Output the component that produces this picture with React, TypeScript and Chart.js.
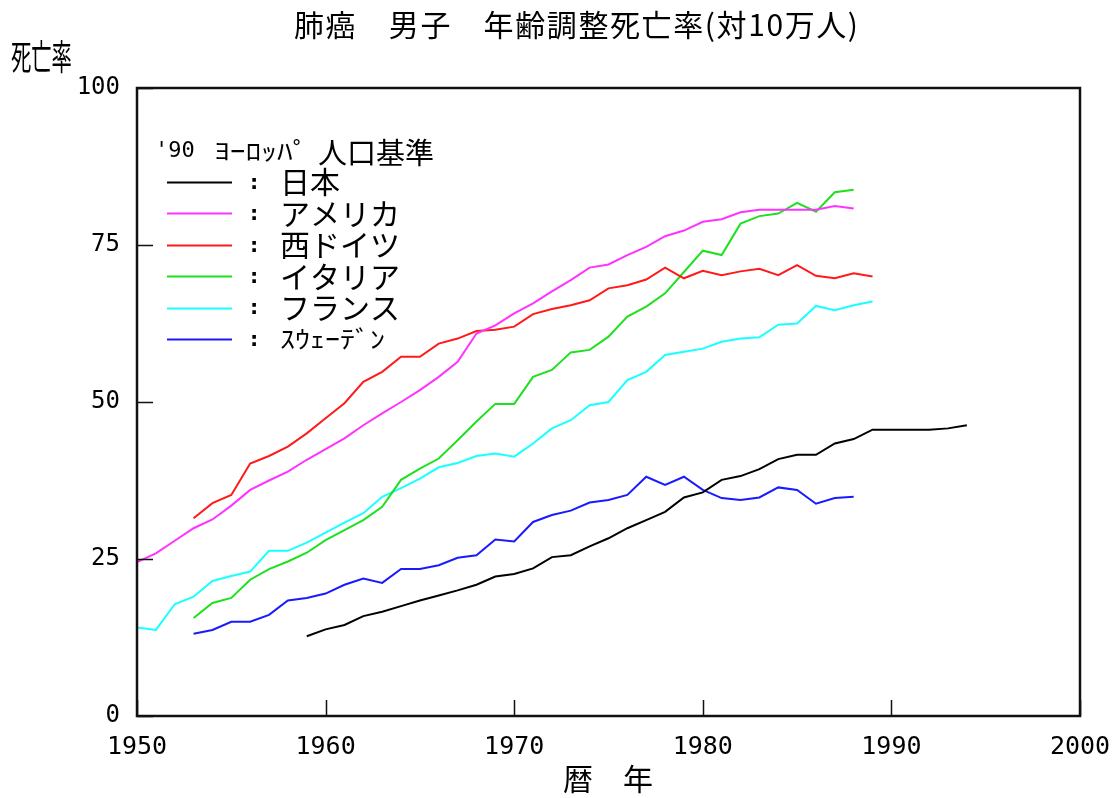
import React, { useEffect, useRef } from "react";
import { Chart, registerables } from "chart.js";

Chart.register(...registerables);

// ---------- data ----------
const chartTitle = "肺癌　男子　年齢調整死亡率(対10万人)";
const yAxisTitle = "死亡率";
const xAxisTitle = "暦　年";
const legendYear = "'90";
const legendKana = "ﾖｰﾛｯﾊﾟ";
const legendKanji = "人口基準";

const seriesNames = ["日本", "アメリカ", "西ドイツ", "イタリア", "フランス", "ｽｳｪｰﾃﾞﾝ"];
const seriesColors = ["#000000", "#ff33ff", "#ff1a1a", "#1ee01e", "#1affff", "#1a1aff"];
const seriesStartYears = [1959, 1950, 1953, 1953, 1950, 1953];

const japan = [
  12.7, 13.8, 14.5, 15.9, 16.6, 17.5, 18.4, 19.2, 20.0, 20.9, 22.2, 22.6, 23.5, 25.3, 25.6, 27.0,
  28.3, 29.9, 31.2, 32.5, 34.8, 35.6, 37.6, 38.2, 39.3, 40.9, 41.6, 41.6, 43.4, 44.1, 45.6, 45.6,
  45.6, 45.6, 45.8, 46.3,
];
const usa = [
  24.5, 25.9, 27.9, 29.9, 31.3, 33.5, 36.0, 37.5, 38.9, 40.8, 42.5, 44.2, 46.3, 48.2, 50.0, 51.9,
  54.0, 56.4, 60.9, 62.2, 64.1, 65.7, 67.6, 69.4, 71.4, 71.9, 73.4, 74.7, 76.4, 77.3, 78.7, 79.1,
  80.2, 80.6, 80.6, 80.6, 80.6, 81.2, 80.8,
];
const westGermany = [
  31.5, 33.9, 35.2, 40.2, 41.4, 42.9, 45.0, 47.4, 49.8, 53.2, 54.8, 57.2, 57.2, 59.3, 60.1, 61.3,
  61.5, 62.0, 64.0, 64.8, 65.4, 66.2, 68.1, 68.6, 69.5, 71.4, 69.7, 70.9, 70.2, 70.8, 71.2, 70.2,
  71.8, 70.1, 69.7, 70.5, 70.0,
];
const italy = [
  15.6, 18.0, 18.8, 21.7, 23.4, 24.6, 26.0, 28.0, 29.6, 31.2, 33.3, 37.6, 39.4, 41.0, 43.9, 46.9,
  49.7, 49.7, 54.0, 55.1, 57.9, 58.3, 60.4, 63.6, 65.2, 67.3, 70.7, 74.1, 73.4, 78.4, 79.6, 80.0,
  81.7, 80.3, 83.4, 83.8,
];
const france = [
  14.1, 13.7, 17.8, 19.0, 21.5, 22.3, 23.0, 26.3, 26.3, 27.6, 29.2, 30.8, 32.3, 34.9, 36.3, 37.8,
  39.6, 40.3, 41.4, 41.8, 41.3, 43.4, 45.8, 47.1, 49.5, 50.0, 53.5, 54.8, 57.5, 58.0, 58.5, 59.6,
  60.1, 60.3, 62.3, 62.5, 65.3, 64.6, 65.4, 66.0,
];
const sweden = [
  13.1, 13.7, 15.0, 15.0, 16.1, 18.4, 18.8, 19.5, 20.9, 21.9, 21.2, 23.4, 23.4, 24.0, 25.2, 25.6,
  28.1, 27.8, 30.9, 32.0, 32.7, 34.0, 34.4, 35.2, 38.1, 36.8, 38.1, 36.0, 34.7, 34.4, 34.8, 36.4,
  36.0, 33.8, 34.7, 34.9,
];
const seriesValues = [japan, usa, westGermany, italy, france, sweden];

const xTickValues = [1950, 1960, 1970, 1980, 1990, 2000];
const yTickValues = [0, 25, 50, 75, 100];

// ---------- helpers ----------
const CJK = "'Noto Sans CJK JP', 'Noto Sans CJK SC', sans-serif";
const MONO = "'DejaVu Sans Mono', 'Liberation Mono', monospace";

function drawText(
  ctx: CanvasRenderingContext2D,
  text: string,
  x: number,
  y: number,
  font: string,
  opts: { sx?: number; sy?: number; align?: CanvasTextAlign; spacing?: string } = {}
) {
  ctx.save();
  ctx.translate(x, y);
  ctx.scale(opts.sx ?? 1, opts.sy ?? 1);
  ctx.font = font;
  (ctx as any).letterSpacing = opts.spacing ?? "0px";
  ctx.textAlign = opts.align ?? "left";
  ctx.textBaseline = "middle";
  ctx.fillStyle = "#000";
  ctx.fillText(text, 0, 0);
  ctx.restore();
}

const decorPlugin = {
  id: "decor",
  afterDatasetsDraw(chart: any) {
    const ctx: CanvasRenderingContext2D = chart.ctx;
    const { left, right, top, bottom } = chart.chartArea;
    const xs = chart.scales.x;
    const ys = chart.scales.y;

    // frame
    ctx.save();
    ctx.strokeStyle = "#111";
    ctx.lineWidth = 2.5;
    ctx.strokeRect(left, top, right - left, bottom - top);

    // inward tick marks
    ctx.lineWidth = 1.5;
    ctx.beginPath();
    for (const v of yTickValues) {
      const y = Math.round(ys.getPixelForValue(v)) + 0.5;
      ctx.moveTo(left, y);
      ctx.lineTo(left + 16, y);
    }
    for (const v of xTickValues) {
      const x = Math.round(xs.getPixelForValue(v)) + 0.5;
      ctx.moveTo(x, bottom);
      ctx.lineTo(x, bottom - 16);
    }
    ctx.stroke();
    ctx.restore();

    // legend
    drawText(ctx, legendYear, 155, 151, `22px ${MONO}`);
    drawText(ctx, legendKana, 214, 151, `30px ${CJK}`, { sy: 0.8, sx: 1.05 });
    drawText(ctx, legendKanji, 318, 153, `29px ${CJK}`);
    chart.data.datasets.forEach((ds: any, i: number) => {
      const y = 182 + i * 31.4;
      ctx.save();
      ctx.strokeStyle = ds.borderColor;
      ctx.lineWidth = 2;
      ctx.beginPath();
      ctx.moveTo(167, Math.round(y) + 0.5);
      ctx.lineTo(232, Math.round(y) + 0.5);
      ctx.stroke();
      ctx.restore();
      drawText(ctx, ":", 254, y + 1, `bold 22px ${MONO}`, { align: "center" });
      const half = /^[\uFF61-\uFF9F]+$/.test(ds.label);
      drawText(ctx, ds.label, 280, y, `30px ${CJK}`, half ? { sy: 0.8 } : {});
    });
  },
  afterDraw(chart: any) {
    const ctx: CanvasRenderingContext2D = chart.ctx;
    drawText(ctx, chartTitle, 294, 25, `30px ${CJK}`, { spacing: "1.6px" });
    drawText(ctx, yAxisTitle, 11, 57, `35px ${CJK}`, { sx: 0.58 });
    drawText(ctx, xAxisTitle, 608, 779, `30px ${CJK}`, { align: "center" });
  },
};

export default function App() {
  const canvasRef = useRef<HTMLCanvasElement | null>(null);

  useEffect(() => {
    if (!canvasRef.current) return;
    const datasets = seriesNames.map((name, i) => ({
      label: name,
      data: seriesValues[i].map((v, k) => ({ x: seriesStartYears[i] + k, y: v })),
      borderColor: seriesColors[i],
      backgroundColor: seriesColors[i],
      borderWidth: 2,
      pointRadius: 0,
      tension: 0,
      fill: false,
    }));

    const chart = new Chart(canvasRef.current, {
      type: "line",
      data: { datasets },
      options: {
        animation: false,
        responsive: false,
        devicePixelRatio: 1,
        events: [],
        layout: { padding: { top: 88, right: 37, left: 0, bottom: 0 } },
        plugins: {
          legend: { display: false },
          title: { display: false },
          tooltip: { enabled: false },
        },
        scales: {
          x: {
            type: "linear",
            min: 1950,
            max: 2000,
            grid: { display: false, drawTicks: false },
            border: { display: false },
            afterBuildTicks: (scale: any) => {
              scale.ticks = xTickValues.map((v) => ({ value: v }));
            },
            afterFit: (scale: any) => {
              scale.height = 82;
              scale.paddingLeft = 0;
              scale.paddingRight = 0;
            },
            ticks: {
              color: "#000",
              padding: 16,
              maxRotation: 0,
              font: { family: MONO, size: 25 },
              callback: (v: any) => String(v),
            },
          },
          y: {
            type: "linear",
            min: 0,
            max: 100,
            grid: { display: false, drawTicks: false },
            border: { display: false },
            afterBuildTicks: (scale: any) => {
              scale.ticks = yTickValues.map((v) => ({ value: v }));
            },
            afterFit: (scale: any) => {
              scale.width = 137;
              scale.paddingTop = 0;
              scale.paddingBottom = 0;
            },
            ticks: {
              color: "#000",
              padding: 17,
              font: { family: MONO, size: 24 },
              callback: (v: any) => String(v),
            },
          },
        },
      },
      plugins: [decorPlugin],
    } as any);

    let alive = true;
    (document as any).fonts?.ready?.then(() => {
      if (alive) chart.draw();
    });

    return () => {
      alive = false;
      chart.destroy();
    };
  }, []);

  return (
    <div style={{ position: "fixed", left: 0, top: 0, width: 1117, height: 798, background: "#fff" }}>
      <canvas ref={canvasRef} width={1117} height={798} style={{ display: "block" }} />
    </div>
  );
}
